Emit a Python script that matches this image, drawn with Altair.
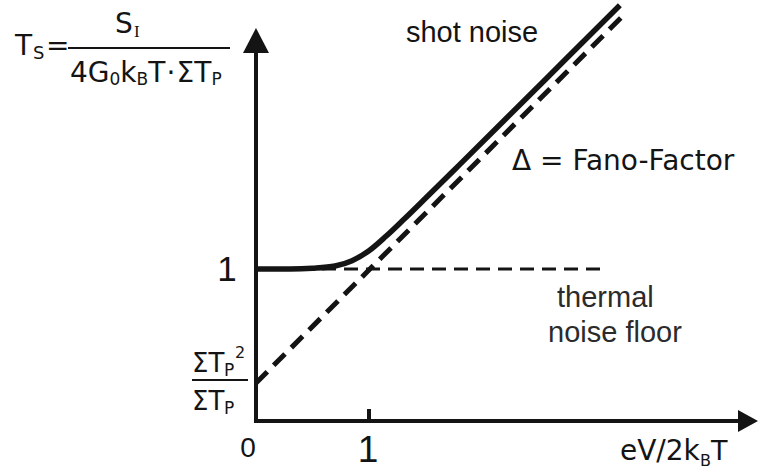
import altair as alt
import pandas as pd

INK = "#141414"

# Schematic noise temperature Ts versus bias eV/2kBT
curve_x = [0.0, 0.3, 0.5, 0.7, 0.85, 1.0, 1.15, 1.3, 1.5, 1.8, 2.2, 2.7, 3.22]
curve_y = [1.00, 1.00, 1.005, 1.02, 1.055, 1.12, 1.215, 1.32, 1.465, 1.685, 1.98, 2.35, 2.735]

# Shot-noise asymptote, starting at sum(Tp^2)/sum(Tp)
asym_x = [0.0, 3.24]
asym_y = [0.25, 2.66]

# Thermal noise floor
floor_x = [0.0, 3.11]
floor_y = [1.0, 1.0]

# Tick on the bias axis
tick_x = [1.0]

X = alt.Scale(domain=[-2.2655, 4.4425], nice=False, zero=False)
Y = alt.Scale(domain=[-0.3224, 2.7697], nice=False, zero=False)


def xq(field="x"):
    return alt.X(f"{field}:Q", scale=X, axis=None)


def yq(field="y"):
    return alt.Y(f"{field}:Q", scale=Y, axis=None)


def line(xs, ys, width, dash=None, interp="linear"):
    kw = dict(strokeWidth=width, color=INK, interpolate=interp, strokeCap="butt")
    if dash:
        kw["strokeDash"] = dash
    df = pd.DataFrame({"x": xs, "y": ys})
    return alt.Chart(df).mark_line(**kw).encode(x=xq(), y=yq())


# axis lines and the tick at x = 1
axes_df = pd.DataFrame({
    "x": [0.0, -0.018, tick_x[0]],
    "x2": [0.0, 4.29, tick_x[0]],
    "y": [-0.013, 0.0, 0.0],
    "y2": [2.43, 0.0, 0.079],
})
axes = alt.Chart(axes_df).mark_rule(strokeWidth=4, color=INK).encode(
    x=xq(), x2="x2:Q", y=yq(), y2="y2:Q")

# arrowheads
xhead_df = pd.DataFrame({"x": [4.2655, 4.4425], "y": [0.0724, 0.0], "y2": [-0.0724, 0.0]})
xhead = alt.Chart(xhead_df).mark_area(color=INK, orient="vertical").encode(
    x=xq(), y=yq(), y2="y2:Q")
yhead_df = pd.DataFrame({"y": [2.421, 2.5855], "x": [-0.115, 0.0], "x2": [0.115, 0.0]})
yhead = alt.Chart(yhead_df).mark_area(color=INK, orient="horizontal").encode(
    y=yq(), x=xq(), x2="x2:Q")

# fraction bars in the formulas
bars_df = pd.DataFrame({
    "x": [-1.6637, -0.5664], "x2": [-0.2301, -0.0708],
    "y": [2.4539, 0.2697],
})
bars = alt.Chart(bars_df).mark_rule(strokeWidth=1.8, color=INK).encode(
    x=xq(), x2="x2:Q", y=yq())


def labels(rows, font, align="left", color=INK):
    df = pd.DataFrame(rows, columns=["text", "x", "y", "size"])
    return alt.Chart(df).mark_text(
        font=font, align=align, baseline="alphabetic", color=color
    ).encode(
        x=xq(), y=yq(), text="text:N",
        size=alt.Size("size:Q", scale=None, legend=None),
    )


sans_center = labels([
    ["1", -0.2566, 0.9211, 35],
    ["1", 0.9912, -0.2697, 37],
    ["0", -0.0708, -0.2368, 28],
], "Liberation Sans", align="center")

sans_left = labels([
    ["shot noise", 1.3274, 2.4934, 29],
], "Liberation Sans")

floor_label = labels([
    ["thermal", 2.6637, 0.75, 29],
    ["noise floor", 2.5841, 0.5197, 29],
], "Liberation Sans", color="#2b2b2b")

dv_left = labels([
    ["\u0394 = Fano-Factor", 2.2655, 1.6513, 28],
    # axis title eV/2kBT
    ["eV/2k", 3.2212, -0.2566, 28],
    ["B", 3.9292, -0.2961, 16],
    ["T", 4.0265, -0.2566, 27],
    # Ts = SI / (4 G0 kB T . sum Tp)
    ["T", -2.1327, 2.4079, 28],
    ["S", -1.9735, 2.3816, 18],
    ["=", -1.8584, 2.4079, 28],
    ["S", -1.2478, 2.5526, 28],
    ["4G", -1.6460, 2.2303, 28],
    ["0", -1.2965, 2.2105, 17],
    ["k", -1.2009, 2.2303, 28],
    ["B", -1.0575, 2.2105, 17],
    ["T", -0.9540, 2.2303, 28],
    ["\u00b7", -0.7920, 2.2303, 28],
    ["\u03a3T", -0.7035, 2.2303, 28],
    ["P", -0.3938, 2.2105, 17],
    # sum Tp^2 / sum Tp
    ["\u03a3T", -0.5664, 0.3224, 26],
    ["P", -0.2832, 0.2961, 17],
    ["2", -0.1858, 0.4145, 16],
    ["\u03a3T", -0.5664, 0.0724, 26],
    ["P", -0.2832, 0.0461, 17],
], "DejaVu Sans")

serif_left = labels([
    ["I", -1.0796, 2.5263, 17],
], "Liberation Serif")

chart = alt.layer(
    line(floor_x, floor_y, 3.2, dash=[14, 8]),
    line(asym_x, asym_y, 5, dash=[16, 9]),
    line(curve_x, curve_y, 5.5, interp="monotone"),
    axes, xhead, yhead, bars,
    sans_center, sans_left, floor_label, dv_left, serif_left,
).properties(
    width=758, height=470,
    autosize=alt.AutoSizeParams(type="none"),
    padding=0,
    background="white",
).configure_view(strokeWidth=0)

chart.save("out.html", embed_options={"renderer": "svg", "actions": False})
